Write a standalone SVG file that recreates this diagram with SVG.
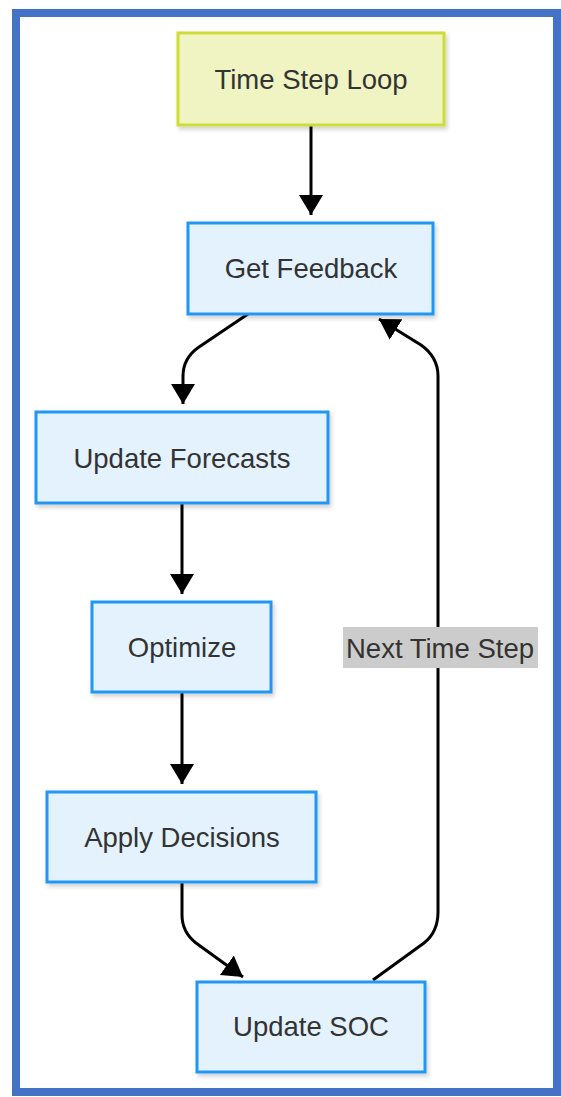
<svg xmlns="http://www.w3.org/2000/svg" width="561" height="1097" viewBox="0 0 561 1097">
  <style>
    .node rect { stroke-width: 3; filter: url(#shadow); }
    .blue rect { fill: #e3f2fd; stroke: #2196f3; }
    .yellow rect { fill: #f0f4c3; stroke: #cddc39; }
    text { font-family: "Liberation Sans", Arial, sans-serif; font-size: 27.5px; fill: #333; text-anchor: middle; dominant-baseline: central; }
    .edge { fill: none; stroke: #000; stroke-width: 3; }
  </style>
  <defs>
    <filter id="shadow" x="-10%" y="-10%" width="125%" height="130%">
      <feDropShadow dx="2" dy="3" stdDeviation="2" flood-color="#000" flood-opacity="0.18"/>
    </filter>
    <marker id="head" viewBox="0 0 20 24" refX="20" refY="12" markerWidth="20" markerHeight="24" markerUnits="userSpaceOnUse" orient="auto">
      <path d="M0,0 L20,12 L0,24 z" fill="#000"/>
    </marker>
  </defs>

  <!-- page frame -->
  <rect x="0" y="0" width="561" height="1097" fill="#fff"/>
  <rect x="16" y="13" width="541" height="1079" fill="#fff" stroke="#4472c4" stroke-width="8"/>

  <!-- connectors -->
  <g id="edges">
    <path class="edge" marker-end="url(#head)" d="M311,125 L311,215"/>
    <path class="edge" marker-end="url(#head)" d="M248,314 L199,347 Q183,358 183,376 L183,404"/>
    <path class="edge" marker-end="url(#head)" d="M182,503 L182,594"/>
    <path class="edge" marker-end="url(#head)" d="M182,692 L182,784"/>
    <path class="edge" marker-end="url(#head)" d="M182,882 L182,915 Q182,932 196,943 L243,977"/>
    <path class="edge" marker-end="url(#head)" d="M373,980 L424,943 Q438,932 438,912 L438,376 Q438,357 421,345 L379,319"/>
    <g id="edge-label">
      <rect x="343" y="627" width="195" height="41" fill="#cccccc"/>
      <text x="440" y="648">Next Time Step</text>
    </g>
  </g>

  <!-- nodes -->
  <g id="time-step-loop" class="node yellow">
    <rect x="178" y="33" width="266" height="92"/>
    <text x="311" y="79">Time Step Loop</text>
  </g>
  <g id="get-feedback" class="node blue">
    <rect x="188" y="223" width="245" height="91"/>
    <text x="311" y="268">Get Feedback</text>
  </g>
  <g id="update-forecasts" class="node blue">
    <rect x="36" y="412" width="292" height="91"/>
    <text x="182" y="458">Update Forecasts</text>
  </g>
  <g id="optimize" class="node blue">
    <rect x="92" y="602" width="179" height="90"/>
    <text x="182" y="647">Optimize</text>
  </g>
  <g id="apply-decisions" class="node blue">
    <rect x="47" y="792" width="269" height="90"/>
    <text x="182" y="837">Apply Decisions</text>
  </g>
  <g id="update-soc" class="node blue">
    <rect x="197" y="982" width="228" height="90"/>
    <text x="311" y="1026">Update SOC</text>
  </g>
</svg>
